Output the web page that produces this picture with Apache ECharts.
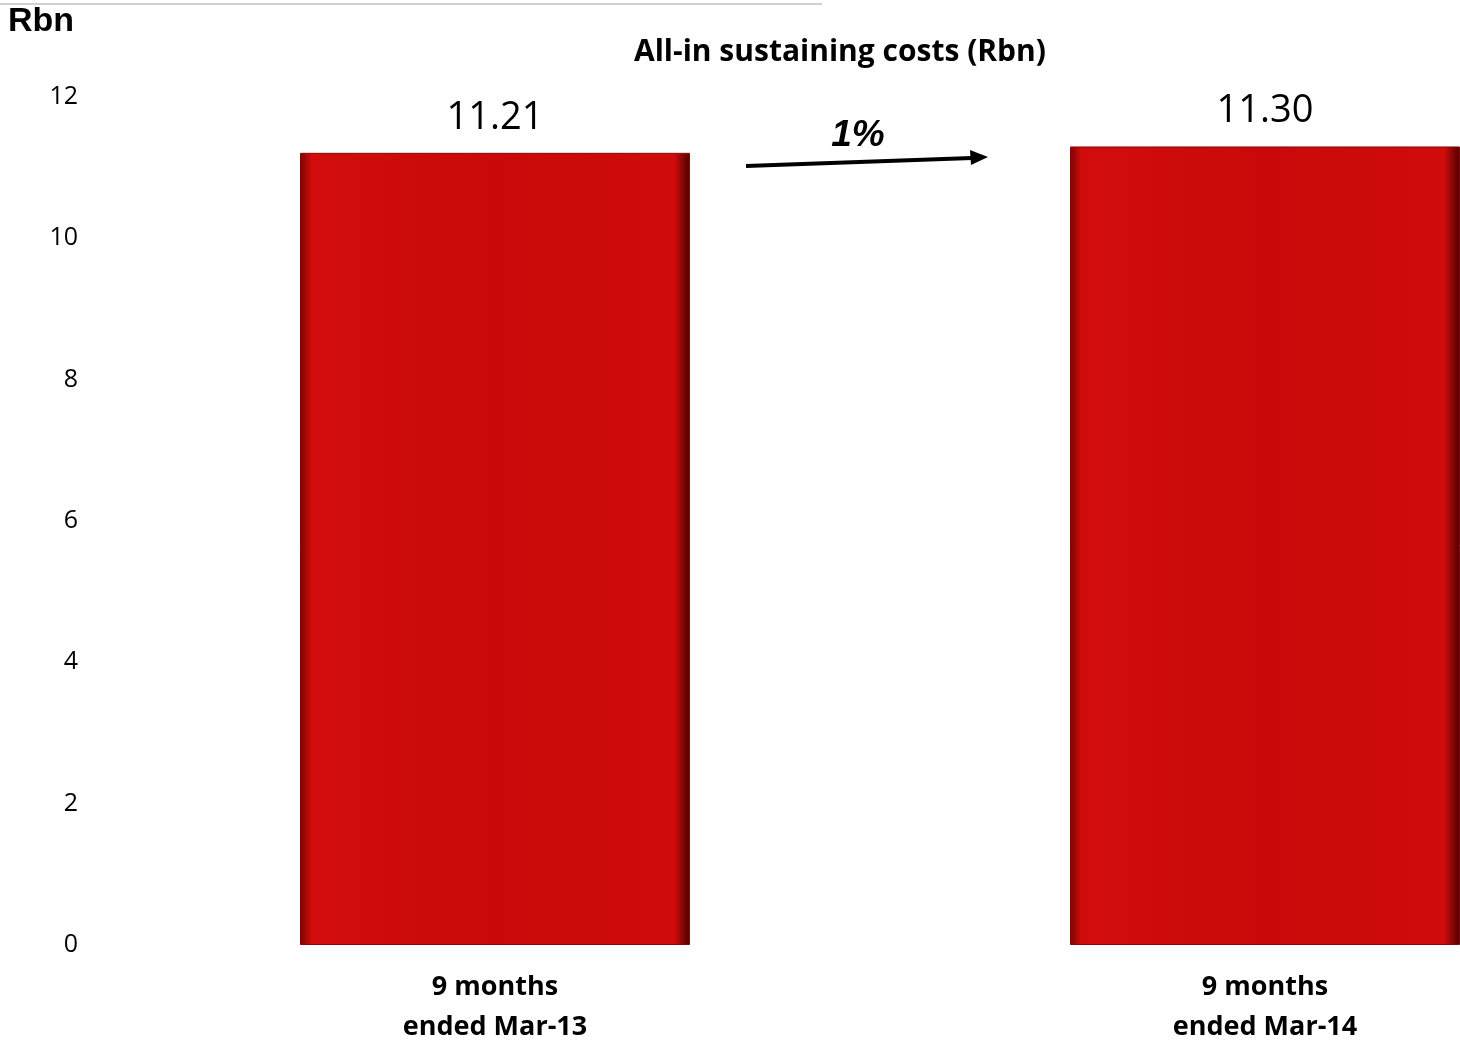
<!DOCTYPE html>
<html>
<head>
<meta charset="utf-8">
<script src="https://cdn.jsdelivr.net/npm/echarts@6/dist/echarts.min.js"></script>
<style>
    html, body { margin: 0; padding: 0; background: #fff; }
    #main { width: 1460px; height: 1045px; }
</style>
</head>
<body>
<div id="main"></div>
<script>
// 数据
var categories = ['9 months\nended Mar-13', '9 months\nended Mar-14'];
var costs = [11.21, 11.30];
var valueLabels = ['11.21', '11.30'];
var changeText = '1%';

var chart = echarts.init(document.getElementById('main'));

// 柱子颜色：边缘暗，中间亮红
var barColor = new echarts.graphic.LinearGradient(0, 0, 1, 0, [
    { offset: 0, color: '#7a0404' },
    { offset: 0.03, color: '#d20c0c' },
    { offset: 0.5, color: '#c90909' },
    { offset: 0.96, color: '#d00b0b' },
    { offset: 1, color: '#4a0000' }
]);

var option = {
    animation: false,
    title: {
        text: 'All-in sustaining costs (Rbn)',
        left: 835,
        top: 32,
        textAlign: 'center',
        textStyle: {
            fontFamily: 'Open Sans',
            fontWeight: 'bold',
            fontSize: 30,
            color: '#000'
        }
    },
    // 柱子中心在两端刻度上
    grid: {
        left: 495,
        right: 195,
        top: 97,
        bottom: 100,
        outerBoundsMode: 'none'
    },
    xAxis: {
        type: 'category',
        boundaryGap: false,
        data: categories,
        axisLine: { show: false },
        axisTick: { show: false },
        axisLabel: {
            margin: 22,
            fontFamily: 'Open Sans',
            fontWeight: 'bold',
            fontSize: 27,
            lineHeight: 40,
            color: '#000'
        }
    },
    yAxis: {
        type: 'value',
        min: 0,
        max: 12,
        interval: 2,
        splitLine: { show: false },
        axisLine: { show: false },
        axisTick: { show: false },
        axisLabel: {
            margin: 417,
            fontFamily: 'Open Sans',
            fontSize: 25,
            color: '#000'
        }
    },
    series: [{
        type: 'bar',
        data: costs,
        barWidth: 390,
        itemStyle: {
            color: barColor,
            borderColor: '#8a0606',
            borderWidth: 1
        },
        label: {
            show: true,
            position: 'top',
            distance: 16,
            fontFamily: 'Open Sans',
            fontSize: 38,
            color: '#000',
            formatter: function (p) {
                return valueLabels[p.dataIndex];
            }
        }
    }],
    graphic: [
        // 左上角灰线
        {
            type: 'line',
            shape: { x1: 0, y1: 4, x2: 822, y2: 4 },
            style: { stroke: '#d0d0d0', lineWidth: 2 }
        },
        {
            type: 'text',
            left: 8,
            top: 5,
            style: {
                text: 'Rbn',
                font: 'bold 34px "Liberation Sans"',
                fill: '#000'
            }
        },
        // 增长箭头
        {
            type: 'line',
            shape: { x1: 746, y1: 166, x2: 972, y2: 158 },
            style: { stroke: '#000', lineWidth: 4 }
        },
        {
            type: 'polygon',
            shape: { points: [[988, 157], [970, 150], [971, 165]] },
            style: { fill: '#000' }
        },
        {
            type: 'text',
            x: 858,
            y: 136,
            style: {
                text: changeText,
                font: 'italic bold 37px "Liberation Sans"',
                fill: '#000',
                align: 'center',
                verticalAlign: 'middle'
            }
        }
    ]
};

chart.setOption(option);
</script>
</body>
</html>
